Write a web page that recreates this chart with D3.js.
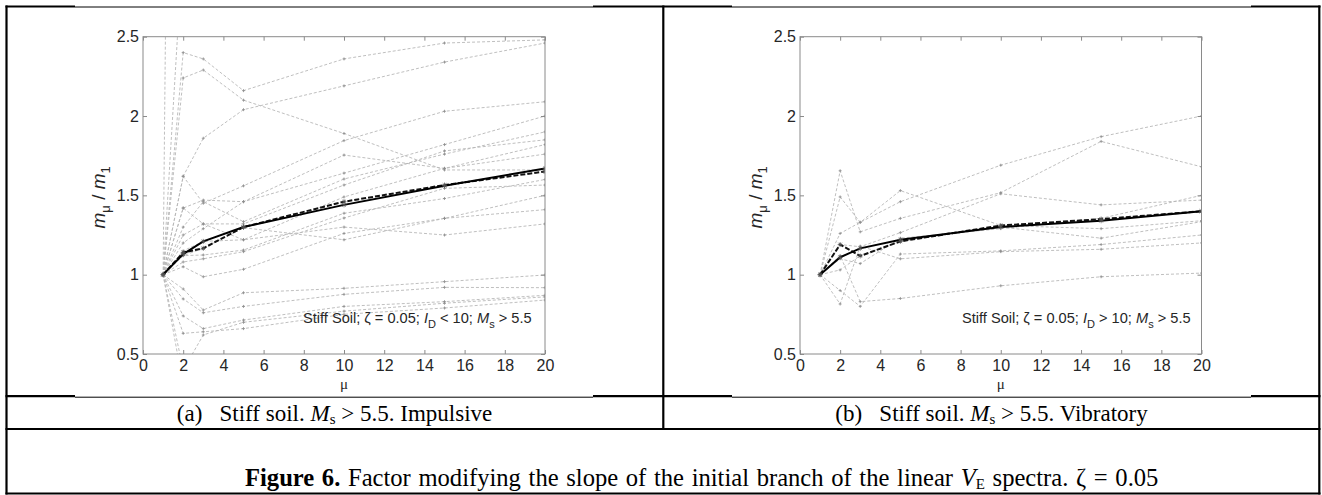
<!DOCTYPE html>
<html lang="en">
<head>
<meta charset="UTF-8">
<title>Figure 6 - slope factor</title>
<script src="https://d3js.org/d3.v7.min.js"></script>
<style>
  html, body { margin: 0; padding: 0; background: #fff; }
  svg { display: block; }
  .tick text { font-family: "Liberation Sans", Arial, sans-serif; font-size: 16px; fill: #262626; }
  .tick line { stroke: #8a8a8a; }
</style>
</head>
<body>
<svg id="fig" width="1322" height="495"></svg>
<script>
// ductility values where the ratio was computed
const muValues = [1, 2, 3, 5, 10, 15, 20];
const xTicks = [0, 2, 4, 6, 8, 10, 12, 14, 16, 18, 20];
const yTicks = [0.5, 1, 1.5, 2, 2.5];

// (a) impulsive records, one row per record (values at muValues)
const impulsiveRecords = [
  [1, 2.40, 2.36, 2.16, 2.36, 2.46, 2.48],
  [1, 2.24, 2.29, 2.10, 1.89, 1.66, 1.66],
  [1, 1.62, 1.86, 2.04, 2.19, 2.34, 2.46],
  [1, 1.62, 1.45, 1.56, 1.845, 2.03, 2.09],
  [1, 1.42, 1.47, 1.46, 1.64, 1.82, 2.00],
  [1, 1.30, 1.46, 1.334, 1.603, 1.76, 1.90],
  [1, 1.25, 1.32, 1.32, 1.565, 1.78, 1.85],
  [1, 1.20, 1.29, 1.46, 1.754, 1.67, 1.82],
  [1, 1.15, 1.21, 1.22, 1.49, 1.67, 1.76],
  [1, 1.12, 1.124, 1.155, 1.387, 1.48, 1.60],
  [1, 1.08, 1.10, 1.145, 1.357, 1.544, 1.565],
  [1, 1.42, 1.32, 1.22, 1.30, 1.25, 1.32],
  [1, 1.05, 0.987, 1.034, 1.26, 1.355, 1.41],
  [1, 1.12, 1.166, 1.296, 1.22, 1.355, 1.50],
  [1, 0.91, 0.777, 0.886, 0.914, 0.956, 0.998],
  [1, 0.847, 0.76, 0.80, 0.876, 0.92, 0.918],
  [1, 0.74, 0.66, 0.714, 0.80, 0.83, 0.87],
  [1, 0.63, 0.64, 0.66, 0.75, 0.79, 0.84],
  [1, 0.40, 0.62, 0.70, 0.77, 0.82, 0.86],
  [1, 0.30, 0.20, 0.25, 0.30, 0.35, 0.40],
  [1, 14.0, 12.0, 10.0, 9.0, 8.0, 7.5],
  [1, 3.10, 2.90, 2.80, 2.90, 3.00, 3.10]
];
const impulsiveMean = [1, 1.13, 1.21, 1.30, 1.44, 1.56, 1.67];
const impulsiveMedian = [1, 1.14, 1.166, 1.30, 1.46, 1.565, 1.65];

// (b) vibratory records
const vibratoryRecords = [
  [1, 1.26, 1.33, 1.46, 1.69, 1.87, 2.00],
  [1, 1.655, 1.27, 1.355, 1.517, 1.84, 1.68],
  [1, 1.49, 1.33, 1.53, 1.31, 1.29, 1.34],
  [1, 1.19, 1.176, 1.265, 1.51, 1.44, 1.47],
  [1, 1.10, 1.07, 1.23, 1.29, 1.355, 1.50],
  [1, 1.03, 1.12, 1.21, 1.30, 1.23, 1.334],
  [1, 0.90, 0.80, 1.13, 1.15, 1.19, 1.25],
  [1, 1.12, 0.83, 0.85, 0.93, 0.987, 1.01],
  [1, 0.815, 1.18, 1.10, 1.145, 1.16, 1.20]
];
const vibratoryMean = [1, 1.11, 1.166, 1.22, 1.30, 1.34, 1.40];
const vibratoryMedian = [1, 1.19, 1.118, 1.21, 1.31, 1.35, 1.40];

const svg = d3.select("#fig");
const sans = '"Liberation Sans", Arial, sans-serif';
const serif = '"Liberation Serif", "Times New Roman", serif';

svg.append("rect").attr("width", 1322).attr("height", 495).attr("fill", "#fff");

const panels = [
  { id: "a", x0: 143, x1: 545, records: impulsiveRecords, mean: impulsiveMean, median: impulsiveMedian,
    rel: "<", noteX: 303 },
  { id: "b", x0: 800, x1: 1201.5, records: vibratoryRecords, mean: vibratoryMean, median: vibratoryMedian,
    rel: ">", noteX: 962 }
];
const yTop = 36.7, yBot = 354;

panels.forEach(p => {
  const x = d3.scaleLinear().domain([0, 20]).range([p.x0, p.x1]);
  const y = d3.scaleLinear().domain([0.5, 2.5]).range([yBot, yTop]);
  const g = svg.append("g");

  g.append("clipPath").attr("id", "clip-" + p.id)
    .append("rect").attr("x", p.x0).attr("y", yTop).attr("width", p.x1 - p.x0).attr("height", yBot - yTop);

  const line = d3.line().x((d, i) => x(muValues[i])).y(d => y(d));
  const plot = g.append("g").attr("clip-path", `url(#clip-${p.id})`);

  // individual records
  p.records.forEach(r => {
    plot.append("path").attr("d", line(r)).attr("fill", "none")
      .attr("stroke", "#b8b8b8").attr("stroke-width", 0.9).attr("stroke-dasharray", "3,2");
    r.forEach((v, i) => {
      const cx = x(muValues[i]), cy = y(v);
      plot.append("path").attr("d", `M${cx - 1.5},${cy}h3M${cx},${cy - 1.5}v3`)
        .attr("stroke", "#8c8c8c").attr("stroke-width", 0.8);
    });
  });

  // median (dashed) and mean (solid)
  plot.append("path").attr("d", line(p.median)).attr("fill", "none")
    .attr("stroke", "#111").attr("stroke-width", 2).attr("stroke-dasharray", "5,2");
  plot.append("path").attr("d", line(p.mean)).attr("fill", "none")
    .attr("stroke", "#000").attr("stroke-width", 2);
  [p.mean, p.median].forEach(s => s.forEach((v, i) => {
    const cx = x(muValues[i]), cy = y(v);
    plot.append("path")
      .attr("d", `M${cx - 2.5},${cy}h5M${cx},${cy - 2.5}v5M${cx - 1.8},${cy - 1.8}l3.6,3.6M${cx - 1.8},${cy + 1.8}l3.6,-3.6`)
      .attr("stroke", "#555").attr("stroke-width", 0.7);
  }));

  // box
  g.append("rect").attr("x", p.x0).attr("y", yTop).attr("width", p.x1 - p.x0).attr("height", yBot - yTop)
    .attr("fill", "none").attr("stroke", "#8a8a8a").attr("stroke-width", 1);

  const ax = [
    g.append("g").attr("transform", `translate(0,${yBot})`)
      .call(d3.axisBottom(x).tickValues(xTicks).tickSize(-4).tickPadding(6).tickFormat(d3.format("d"))),
    g.append("g").attr("transform", `translate(0,${yTop})`)
      .call(d3.axisTop(x).tickValues(xTicks).tickSize(-4).tickFormat("")),
    g.append("g").attr("transform", `translate(${p.x0},0)`)
      .call(d3.axisLeft(y).tickValues(yTicks).tickSize(-4).tickPadding(4).tickFormat(d => String(d))),
    g.append("g").attr("transform", `translate(${p.x1},0)`)
      .call(d3.axisRight(y).tickValues(yTicks).tickSize(-4).tickFormat(""))
  ];
  ax.forEach(a => a.select(".domain").remove());
  ax.forEach(a => a.selectAll(".tick line").attr("stroke", "#8a8a8a"));

  // x label
  g.append("text").attr("x", (p.x0 + p.x1) / 2).attr("y", 389).attr("text-anchor", "middle")
    .attr("font-family", serif).attr("font-size", 15).attr("fill", "#262626").text("\u03bc");

  // y label
  const yl = g.append("text").attr("transform", `translate(${p.x0 - 38},${(yTop + yBot) / 2 + 2}) rotate(-90)`)
    .attr("text-anchor", "middle").attr("font-family", sans).attr("font-size", 19).attr("fill", "#262626");
  yl.append("tspan").attr("font-style", "italic").text("m");
  yl.append("tspan").attr("font-size", 13).attr("dy", 5).text("\u03bc");
  yl.append("tspan").attr("dy", -5).text(" / ");
  yl.append("tspan").attr("font-style", "italic").text("m");
  yl.append("tspan").attr("font-size", 13).attr("dy", 5).text("1");

  // annotation
  const nt = g.append("text").attr("x", p.noteX).attr("y", 323)
    .attr("font-family", sans).attr("font-size", 14.6).attr("fill", "#262626");
  nt.append("tspan").text("Stiff Soil; \u03b6 = 0.05; ");
  nt.append("tspan").attr("font-style", "italic").text("I");
  nt.append("tspan").attr("font-size", 11).attr("dy", 5).text("D");
  nt.append("tspan").attr("dy", -5).text(` ${p.rel} 10; `);
  nt.append("tspan").attr("font-style", "italic").text("M");
  nt.append("tspan").attr("font-size", 11).attr("dy", 5).text("s");
  nt.append("tspan").attr("dy", -5).text(" > 5.5");
});

// table frame
const frame = svg.append("g").attr("stroke", "#000").attr("fill", "none");
function hseg(x1, x2, yy, w) {
  frame.append("line").attr("x1", x1).attr("x2", x2).attr("y1", yy).attr("y2", yy).attr("stroke-width", w);
}
function vseg(xx, y1, y2, w) {
  frame.append("line").attr("x1", xx).attr("x2", xx).attr("y1", y1).attr("y2", y2).attr("stroke-width", w);
}
// top edge and the line under the plots, partly covered by the pictures
[[6.5, 7], [396.2, 397.2]].forEach(([thickY, thinY]) => {
  [[5.5, 75], [593, 732], [1251, 1320.5]].forEach(s => hseg(s[0], s[1], thickY, 2.2));
  [[75, 593], [732, 1251]].forEach(s => hseg(s[0], s[1], thinY, 1));
});
hseg(5.5, 1320.5, 429, 2.2);
hseg(5.5, 1320.5, 493.5, 2.2);
vseg(6.5, 5.5, 494.5, 2.2);
vseg(1319.3, 5.5, 494.5, 2.2);
vseg(663.3, 5.5, 429, 2.2);

// captions
function caption(cx, letter, tail) {
  const t = svg.append("text").attr("x", cx).attr("y", 421).attr("text-anchor", "middle")
    .attr("font-family", serif).attr("font-size", 23).attr("fill", "#000");
  t.append("tspan").text(`(${letter})\u00a0\u00a0 Stiff soil. `);
  t.append("tspan").attr("font-style", "italic").text("M");
  t.append("tspan").attr("font-size", 15).attr("dy", 3).text("s");
  t.append("tspan").attr("dy", -3).text(` > 5.5. ${tail}`);
}
caption(334.5, "a", "Impulsive");
caption(991.5, "b", "Vibratory");

const fc = svg.append("text").attr("x", 245).attr("y", 486)
  .attr("font-family", serif).attr("font-size", 24.6).attr("word-spacing", 1.5).attr("fill", "#000");
fc.append("tspan").attr("font-weight", "bold").text("Figure 6.");
fc.append("tspan").text(" Factor modifying the slope of the initial branch of the linear ");
fc.append("tspan").attr("font-style", "italic").text("V");
fc.append("tspan").attr("font-size", 15).attr("dy", 3).text("E");
fc.append("tspan").attr("dy", -3).text(" spectra. \u03b6 = 0.05");
</script>
</body>
</html>
